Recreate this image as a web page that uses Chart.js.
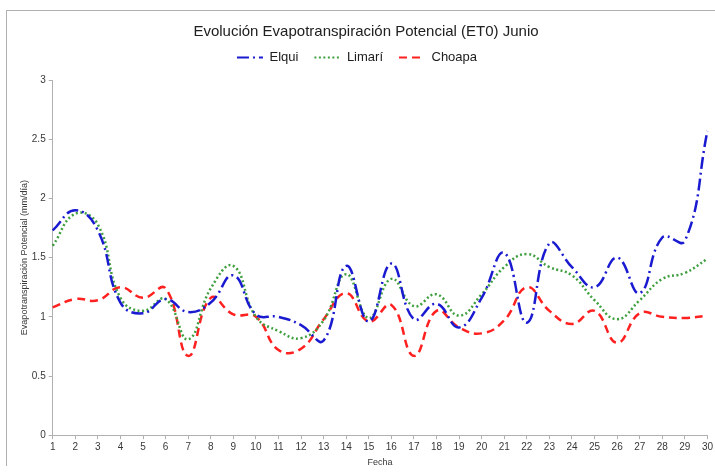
<!DOCTYPE html>
<html>
<head>
<meta charset="utf-8">
<script src="https://cdn.jsdelivr.net/npm/chart.js@4"></script>
<style>
  body { margin: 0; background: #fff; }
  #wrap { position: relative; width: 715px; height: 473px; }
  #frame { position: absolute; left: 6px; top: 10px; width: 720px; height: 455px;
           border-left: 1px solid #b0b0b0; border-top: 1px solid #b0b0b0; pointer-events: none; }
</style>
</head>
<body>
<div id="wrap">
  <canvas id="etoChart" width="715" height="473"></canvas>
  <div id="frame"></div>
</div>
<script>
// Dias de junio
const days = ["1","2","3","4","5","6","7","8","9","10","11","12","13","14","15",
              "16","17","18","19","20","21","22","23","24","25","26","27","28","29","30"];

// ET0 (mm/dia) por valle
const elqui = [1.73, 1.90, 1.73, 1.12, 1.03, 1.15, 1.04, 1.12, 1.35, 1.02,
               1.00, 0.93, 0.80, 1.43, 0.96, 1.45, 0.98, 1.11, 0.91, 1.16,
               1.54, 0.95, 1.62, 1.42, 1.25, 1.50, 1.20, 1.67, 1.64, 2.57];
const limari = [1.60, 1.87, 1.78, 1.16, 1.05, 1.15, 0.81, 1.24, 1.43, 1.00,
                0.88, 0.82, 0.97, 1.36, 0.99, 1.32, 1.09, 1.19, 1.01, 1.19,
                1.42, 1.53, 1.42, 1.35, 1.14, 0.98, 1.14, 1.32, 1.37, 1.49];
const choapa = [1.08, 1.15, 1.14, 1.25, 1.16, 1.24, 0.67, 1.16, 1.02, 1.00,
                0.72, 0.73, 0.98, 1.20, 0.96, 1.10, 0.67, 1.05, 0.91, 0.86,
                0.97, 1.25, 1.05, 0.94, 1.05, 0.78, 1.03, 1.00, 0.99, 1.01];

const yTicks = [0, 0.5, 1, 1.5, 2, 2.5, 3];

const axisColor = "#b0b0b0";
const textColor = "#383838";
const font = "'Liberation Sans', Arial, sans-serif";

new Chart(document.getElementById("etoChart"), {
    type: "line",
    data: {
        labels: days,
        datasets: [
            {
                label: "Elqui",
                data: elqui,
                borderColor: "#1a1ad0",
                borderWidth: 2.5,
                borderDash: [12, 4, 2, 4],
                tension: 0.45,
                pointRadius: 0,
                fill: false,
            },
            {
                label: "Limarí",
                data: limari,
                borderColor: "#3f9f3f",
                borderWidth: 2.5,
                borderDash: [2, 2.5],
                tension: 0.45,
                pointRadius: 0,
                fill: false,
            },
            {
                label: "Choapa",
                data: choapa,
                borderColor: "#ff2020",
                borderWidth: 2.5,
                borderDash: [8, 5],
                tension: 0.45,
                pointRadius: 0,
                fill: false,
            },
        ],
    },
    options: {
        responsive: false,
        animation: false,
        layout: { padding: { left: 19, right: 2, top: 13, bottom: 1 } },
        plugins: {
            title: {
                display: true,
                text: "Evolución Evapotranspiración Potencial (ET0) Junio",
                color: "#202020",
                font: { family: font, size: 15, weight: "normal" },
                padding: { top: 10, bottom: -6 },
            },
            legend: {
                display: true,
                labels: {
                    usePointStyle: true,
                    pointStyle: "line",
                    pointStyleWidth: 26,
                    boxHeight: 10,
                    color: "#202020",
                    font: { family: font, size: 13 },
                    padding: 16,
                    // keep the dash pattern of each line in the legend
                    generateLabels: (chart) => {
                        const items = Chart.defaults.plugins.legend.labels.generateLabels(chart);
                        items.forEach(item => {
                            const ds = chart.data.datasets[item.datasetIndex];
                            item.lineDash = ds.borderDash;
                            item.lineWidth = 2;
                        });
                        return items;
                    },
                },
            },
            tooltip: { enabled: false },
        },
        scales: {
            x: {
                offset: false,
                grid: { display: true, drawOnChartArea: false, color: axisColor, tickLength: 4 },
                border: { color: axisColor },
                ticks: { color: textColor, font: { family: font, size: 10 },
                         maxRotation: 0, autoSkip: false, padding: 2 },
                title: { display: true, text: "Fecha", color: textColor,
                         font: { family: font, size: 9 }, padding: { top: 2 } },
            },
            y: {
                min: 0,
                max: 3,
                afterBuildTicks: (axis) => { axis.ticks = yTicks.map(v => ({ value: v })); },
                grid: { display: true, drawOnChartArea: false, color: axisColor, tickLength: 4 },
                border: { color: axisColor },
                ticks: { color: textColor, font: { family: font, size: 10 }, padding: 3,
                         callback: (v) => String(v) },
                title: { display: true, text: "Evapotranspiración Potencial (mm/día)", color: textColor,
                         font: { family: font, size: 9 }, padding: { top: 0, bottom: -1 } },
            },
        },
    },
    plugins: [{
        id: "legendGap",
        beforeInit(chart) {
            const legend = chart.legend;
            const fit = legend.fit;
            legend.fit = function () {
                fit.call(this);
                this.height += 6;
            };
        },
        afterLayout(chart) {
            // center the legend on the whole canvas, not on the padded box
            chart.legend.left -= 9;
            chart.legend.right -= 9;
        },
    }],
});
</script>
</body>
</html>
